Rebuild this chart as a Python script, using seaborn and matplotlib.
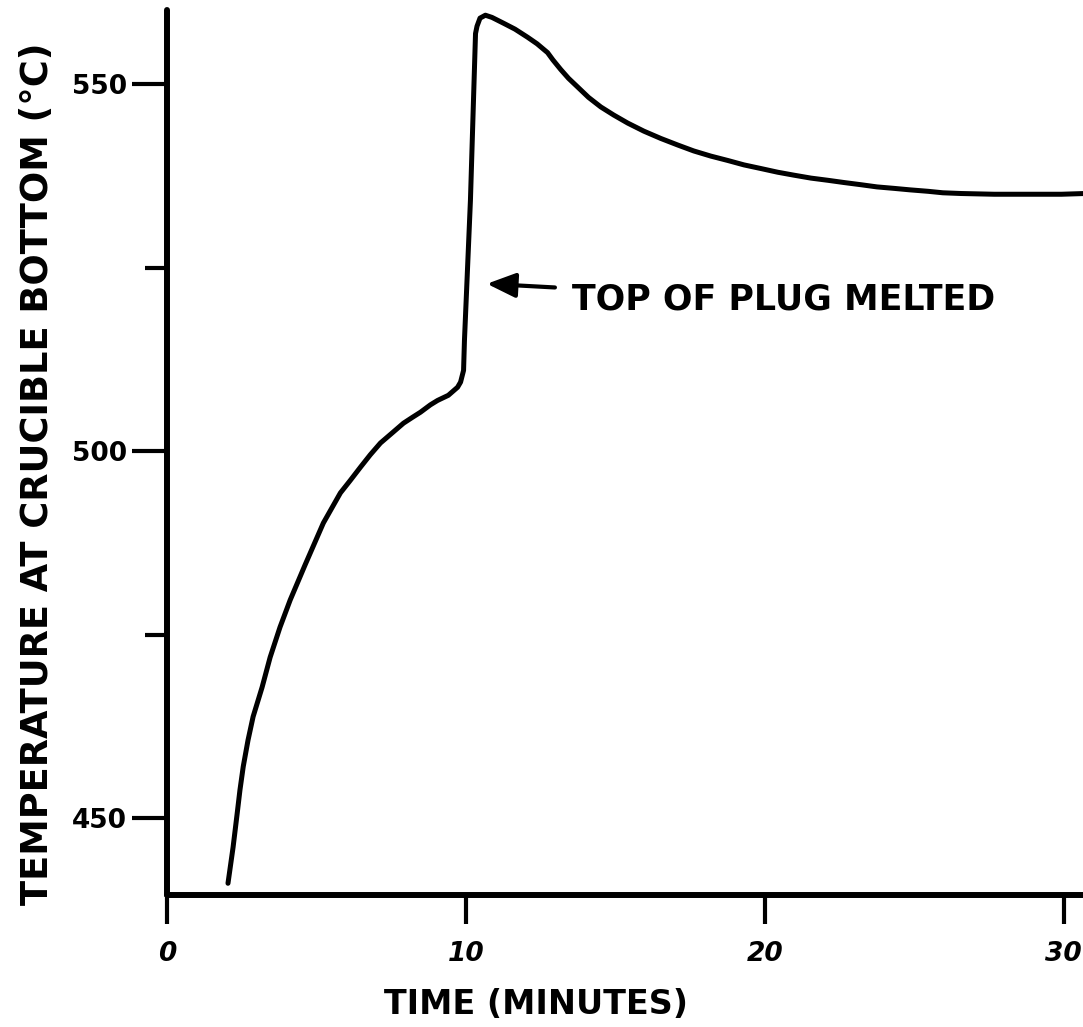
import matplotlib
matplotlib.use("Agg")
import matplotlib.pyplot as plt
import seaborn as sns
import pandas as pd

# --- data (time in minutes, temperature in deg C) ---
time_min = [2.04, 2.21, 2.35, 2.44, 2.55, 2.71, 2.88, 3.18, 3.45, 3.78, 4.12,
            4.62, 5.23, 5.80, 6.13, 6.47, 6.80, 7.14, 7.54, 7.91, 8.21, 8.48,
            8.81, 9.05, 9.41, 9.72, 9.82, 9.92, 9.95, 10.15, 10.32, 10.37,
            10.47, 10.65, 10.87, 11.26, 11.64, 12.06, 12.38, 12.73, 12.91,
            13.17, 13.43, 13.74, 14.10, 14.51, 14.94, 15.41, 15.95, 16.52,
            17.09, 17.62, 18.19, 18.76, 19.30, 19.87, 20.43, 20.97, 21.54,
            22.11, 22.64, 23.21, 23.75, 24.32, 24.85, 25.46, 25.95, 26.57,
            27.67, 28.81, 29.92, 30.69]
temp_c = [441.1, 446.0, 450.7, 453.8, 457.0, 460.6, 463.8, 467.8, 471.9, 476.0,
          479.7, 484.5, 490.2, 494.3, 496.0, 497.8, 499.5, 501.1, 502.5, 503.8,
          504.6, 505.3, 506.3, 506.9, 507.6, 508.7, 509.4, 511.0, 515.1, 534.2,
          556.9, 557.9, 559.0, 559.4, 559.1, 558.3, 557.5, 556.4, 555.5, 554.3,
          553.3, 552.0, 550.8, 549.6, 548.2, 546.9, 545.8, 544.7, 543.6, 542.6,
          541.7, 540.9, 540.2, 539.6, 539.0, 538.5, 538.0, 537.6, 537.2, 536.9,
          536.6, 536.3, 536.0, 535.8, 535.6, 535.4, 535.2, 535.1, 535.0, 535.0,
          535.0, 535.1]

x_ticks = [0, 10, 20, 30]
x_tick_labels = ["0", "10", "20", "30"]
y_major_ticks = [450, 500, 550]
y_minor_ticks = [475, 525]
annotation_text = "TOP OF PLUG MELTED"
annotation_point = (10.70, 522.8)
annotation_text_pos = (13.55, 520.6)

df = pd.DataFrame({"Time": time_min, "Temp": temp_c})

sns.set_theme(style="white")
plt.rcParams["font.family"] = ["DejaVu Sans"]
plt.rcParams["text.color"] = "black"
plt.rcParams["axes.labelcolor"] = "black"
plt.rcParams["xtick.color"] = "black"
plt.rcParams["ytick.color"] = "black"

fig = plt.figure(figsize=(10.83, 10.27), dpi=100)
ax = fig.add_axes([0.1542, 0.1285, 0.8458, 0.8617])

sns.lineplot(data=df, x="Time", y="Temp", sort=False, estimator=None,
             color="black", linewidth=3.6, ax=ax)
for line in ax.get_lines():
    line.set_solid_joinstyle("round")
    line.set_solid_capstyle("round")

ax.set_xlim(0, 30.64)
ax.set_ylim(439.5, 560.1)

for side in ["top", "right"]:
    ax.spines[side].set_visible(False)
for side in ["left", "bottom"]:
    ax.spines[side].set_linewidth(4.3)
    ax.spines[side].set_color("black")
    ax.spines[side].set_capstyle("round")

ax.set_xticks(x_ticks)
ax.set_xticklabels(x_tick_labels, fontsize=19, fontstyle="italic",
                   fontweight="bold", color="black")
ax.set_yticks(y_major_ticks)
ax.set_yticklabels([str(v) for v in y_major_ticks], fontsize=19,
                   fontweight="bold", color="black")
ax.set_yticks(y_minor_ticks, minor=True)

ax.tick_params(axis="x", which="major", direction="out", length=21, width=3,
               pad=12, colors="black", bottom=True)
ax.tick_params(axis="y", which="major", direction="out", length=25, width=3,
               pad=4, colors="black", left=True)
ax.tick_params(axis="y", which="minor", direction="out", length=16, width=3,
               colors="black", left=True)

ax.set_xlabel("TIME (MINUTES)", fontsize=24, fontweight="bold", va="center",
              color="black")
ax.xaxis.set_label_coords(0.403, -0.124)
ax.set_ylabel("TEMPERATURE AT CRUCIBLE BOTTOM (°C)", fontsize=26.5,
              fontweight="bold", va="center", color="black")
ax.yaxis.set_label_coords(-0.141, 0.4755)

ax.annotate(annotation_text, xy=annotation_point, xytext=annotation_text_pos,
            fontsize=25, fontweight="bold", ha="left", va="center", color="black",
            arrowprops=dict(arrowstyle="-|>,head_length=0.7,head_width=0.3",
                            lw=3, color="black", shrinkA=10, shrinkB=0))

ax.grid(False)
ax.set_facecolor("white")
fig.patch.set_facecolor("white")

fig.savefig("out.png", dpi=100)
